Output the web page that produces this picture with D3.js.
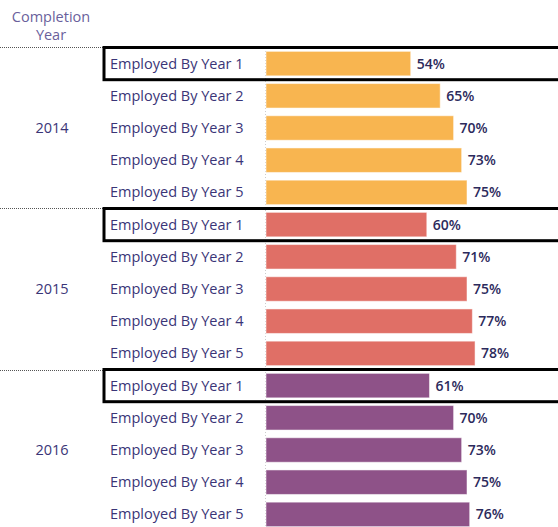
<!DOCTYPE html>
<html>
<head>
<meta charset="utf-8">
<script src="https://cdn.jsdelivr.net/npm/d3@7"></script>
<style>
  body { margin: 0; background: #fff; }
  text { font-family: "Open Sans", "Noto Sans", sans-serif; }
</style>
</head>
<body>
<div id="chart-area"></div>
<script>
const WIDTH = 558;
const HEIGHT = 527;

// data
const years = ["2014", "2015", "2016"];
const categories = ["Employed By Year 1", "Employed By Year 2", "Employed By Year 3", "Employed By Year 4", "Employed By Year 5"];
const values2014 = [54, 65, 70, 73, 75];
const values2015 = [60, 71, 75, 77, 78];
const values2016 = [61, 70, 73, 75, 76];
const yearColors = ["#F8B550", "#E06F66", "#8E5288"];

const valuesByYear = [values2014, values2015, values2016];
const rows = [];
years.forEach((yr, i) => {
  categories.forEach((c, j) => {
    rows.push({ year: yr, cat: c, key: yr + "|" + c, value: valuesByYear[i][j], color: yearColors[i], first: j === 0 });
  });
});

const svg = d3.select("#chart-area").append("svg")
  .attr("width", WIDTH)
  .attr("height", HEIGHT);

const labelX = 110;
const barX = 266;

// scales
const y = d3.scaleBand()
  .domain(rows.map(d => d.key))
  .range([47.5, 530.5])
  .paddingInner(0.24)
  .paddingOuter(0.12);

const x = d3.scaleLinear()
  .domain([0, 100])
  .range([barX, barX + 268]);

const step = y.step();
const half = step * 0.24 / 2;

// header
svg.append("text")
  .attr("x", 51).attr("y", 22)
  .attr("text-anchor", "middle")
  .attr("font-size", "14.5px")
  .attr("fill", "#6A5F9C")
  .text("Completion");
svg.append("text")
  .attr("x", 51).attr("y", 40)
  .attr("text-anchor", "middle")
  .attr("font-size", "14.5px")
  .attr("fill", "#6A5F9C")
  .text("Year");

// group separators (dotted)
years.forEach(yr => {
  const top = y(yr + "|" + categories[0]) - half;
  svg.append("line")
    .attr("x1", 0).attr("x2", 104)
    .attr("y1", Math.round(top) + 0.5).attr("y2", Math.round(top) + 0.5)
    .attr("stroke", "#555")
    .attr("stroke-dasharray", "1,1");
});

// axis baseline
svg.append("line")
  .attr("x1", barX - 0.5).attr("x2", barX - 0.5)
  .attr("y1", 48).attr("y2", 530)
  .attr("stroke", "#ccc")
  .attr("stroke-dasharray", "1,2");

// year labels
years.forEach(yr => {
  const mid = y(yr + "|" + categories[2]) + y.bandwidth() / 2;
  svg.append("text")
    .attr("x", 52).attr("y", mid)
    .attr("dy", "0.35em")
    .attr("text-anchor", "middle")
    .attr("font-size", "14.5px")
    .attr("fill", "#3A3577")
    .text(yr);
});

// category labels
svg.selectAll(".cat").data(rows).enter().append("text")
  .attr("class", "cat")
  .attr("x", labelX)
  .attr("y", d => y(d.key) + y.bandwidth() / 2)
  .attr("dy", "0.35em")
  .attr("font-size", "14.5px")
  .attr("fill", "#3A3577")
  .text(d => d.cat);

// bars
svg.selectAll("rect.bar").data(rows).enter().append("rect")
  .attr("class", "bar")
  .attr("x", x(0))
  .attr("y", d => y(d.key))
  .attr("width", d => x(d.value) - x(0))
  .attr("height", y.bandwidth())
  .attr("fill", d => d.color)
  .attr("stroke", "#fff")
  .attr("stroke-opacity", 0.5);

// value labels
svg.selectAll(".val").data(rows).enter().append("text")
  .attr("class", "val")
  .attr("x", d => x(d.value) + 6)
  .attr("y", d => y(d.key) + y.bandwidth() / 2)
  .attr("dy", "0.35em")
  .attr("font-size", "14px")
  .attr("font-weight", 600)
  .attr("fill", "#2C2A5C")
  .text(d => d.value + "%");

// highlight boxes on first row of each group
svg.selectAll("rect.hl").data(rows.filter(d => d.first)).enter().append("rect")
  .attr("class", "hl")
  .attr("x", 104)
  .attr("y", d => y(d.key) - half)
  .attr("width", 470)
  .attr("height", step)
  .attr("fill", "none")
  .attr("stroke", "#000")
  .attr("stroke-width", 3);
</script>
</body>
</html>
